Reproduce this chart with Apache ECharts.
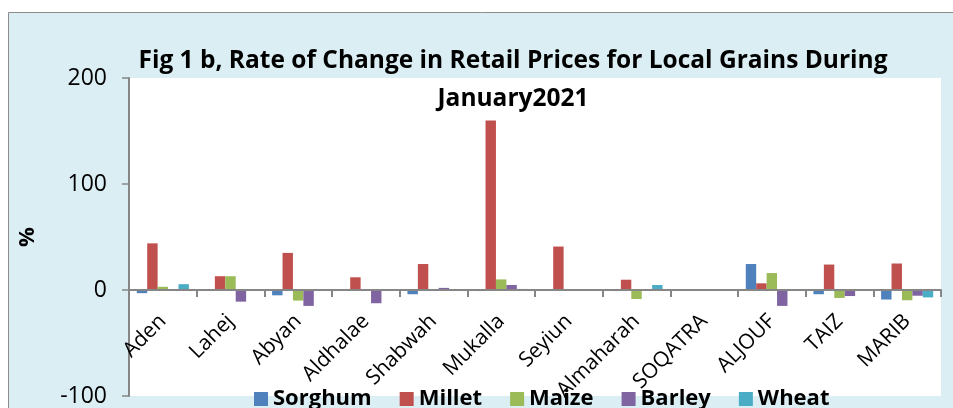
<!DOCTYPE html>
<html>
<head>
<meta charset="utf-8">
<script src="https://cdn.jsdelivr.net/npm/echarts@6/dist/echarts.min.js"></script>
<style>
  html, body { margin: 0; padding: 0; background: #fff; }
  #chart { width: 953px; height: 408px; }
</style>
</head>
<body>
<div id="chart"></div>
<script>
var regions = ['Aden', 'Lahej', 'Abyan', 'Aldhalae', 'Shabwah', 'Mukalla', 'Seyiun', 'Almaharah', 'SOQATRA', 'ALJOUF', 'TAIZ', 'MARIB'];
var sorghum = [-3, 0.5, -5, 0, -4, -1, 0, -1, 0, 24.5, -4, -9];
var millet = [44, 13, 35, 12, 24.5, 160, 41, 9.7, 0, 6.3, 24, 25];
var maize = [3, 13, -10, 0, 0, 10, 0, -8.5, 0, 16, -7.5, -9.7];
var barley = [0, -11, -15, -12.5, 2, 4.7, 0, 0, 0, -15, -5.7, -5.4];
var wheat = [5.5, 0, 0, 0, -0.5, 1, 0, 4.7, 0, 0, 0, -7];
var yTicks = [-100, 0, 100, 200];

var FONT = "'Liberation Sans Narrow', 'Open Sans', sans-serif";
var W = 953, H = 408;
var GRID_LEFT = 129, GRID_RIGHT = 12, GRID_TOP = 78, GRID_BOTTOM = 12;
var chart = echarts.init(document.getElementById('chart'));

// x axis sits on the zero line, move it up from the grid bottom
var plotH = H - GRID_TOP - GRID_BOTTOM;
var zeroShift = plotH * (0 - yTicks[0]) / (yTicks[yTicks.length - 1] - yTicks[0]);

function bar(name, data, color) {
  return {
    name: name,
    type: 'bar',
    data: data,
    barGap: '0%',
    barCategoryGap: '23%',
    itemStyle: { color: color }
  };
}

var series = [
  bar('Sorghum', sorghum, '#4f81bd'),
  bar('Millet', millet, '#c0504d'),
  bar('Maize', maize, '#9bbb59'),
  bar('Barley', barley, '#8064a2'),
  bar('Wheat', wheat, '#4bacc6')
];
// zero baseline
series[0].markLine = {
  silent: true,
  symbol: 'none',
  label: { show: false },
  lineStyle: { color: '#868686', width: 2, type: 'solid' },
  data: [{ yAxis: 0 }]
};

chart.setOption({
  animation: false,
  backgroundColor: '#fff',
  graphic: [
    {
      type: 'rect',
      z: -10,
      shape: { x: 8.5, y: 12.5, width: 1000, height: 500 },
      style: { fill: '#dbeef4', stroke: '#8c8c8c', lineWidth: 1 }
    },
    {
      type: 'rect',
      z: -9,
      shape: { x: GRID_LEFT, y: GRID_TOP, width: W - GRID_LEFT - GRID_RIGHT, height: plotH },
      style: { fill: '#fff' }
    }
  ],
  title: {
    text: 'Fig 1 b, Rate of Change in Retail Prices for Local Grains During\nJanuary2021',
    left: 508,
    top: 37,
    textAlign: 'center',
    textStyle: {
      fontFamily: FONT,
      fontWeight: 'bold',
      fontSize: 24.5,
      lineHeight: 38,
      color: '#000'
    }
  },
  legend: {
    top: 383,
    left: 249,
    itemWidth: 14,
    itemHeight: 14,
    itemGap: 28,
    icon: 'rect',
    z: 10,
    textStyle: { fontFamily: FONT, fontWeight: 'bold', fontSize: 22, color: '#000' },
    data: ['Sorghum', 'Millet', 'Maize', 'Barley', 'Wheat']
  },
  grid: {
    left: GRID_LEFT,
    right: GRID_RIGHT,
    top: GRID_TOP,
    bottom: GRID_BOTTOM,
    outerBoundsMode: 'none',
    containLabel: false
  },
  xAxis: {
    type: 'category',
    data: regions,
    offset: -zeroShift,
    axisLine: { show: true, onZero: false, lineStyle: { color: '#868686', width: 2 } },
    axisTick: { show: true, length: 7, lineStyle: { color: '#868686', width: 2 } },
    axisLabel: {
      interval: 0,
      rotate: 45,
      margin: 28,
      fontFamily: FONT,
      fontSize: 21,
      color: '#000'
    }
  },
  yAxis: {
    type: 'value',
    min: yTicks[0],
    max: yTicks[yTicks.length - 1],
    interval: 100,
    name: '%',
    nameLocation: 'middle',
    nameGap: 90,
    nameTextStyle: { fontFamily: FONT, fontWeight: 'bold', fontSize: 22, color: '#000' },
    axisLine: { show: true, lineStyle: { color: '#868686', width: 2 } },
    axisTick: { show: true, length: 7, lineStyle: { color: '#868686', width: 1.5 } },
    axisLabel: { fontFamily: FONT, fontSize: 23, color: '#000', margin: 22 },
    splitLine: { show: false }
  },
  series: series
});
</script>
</body>
</html>
